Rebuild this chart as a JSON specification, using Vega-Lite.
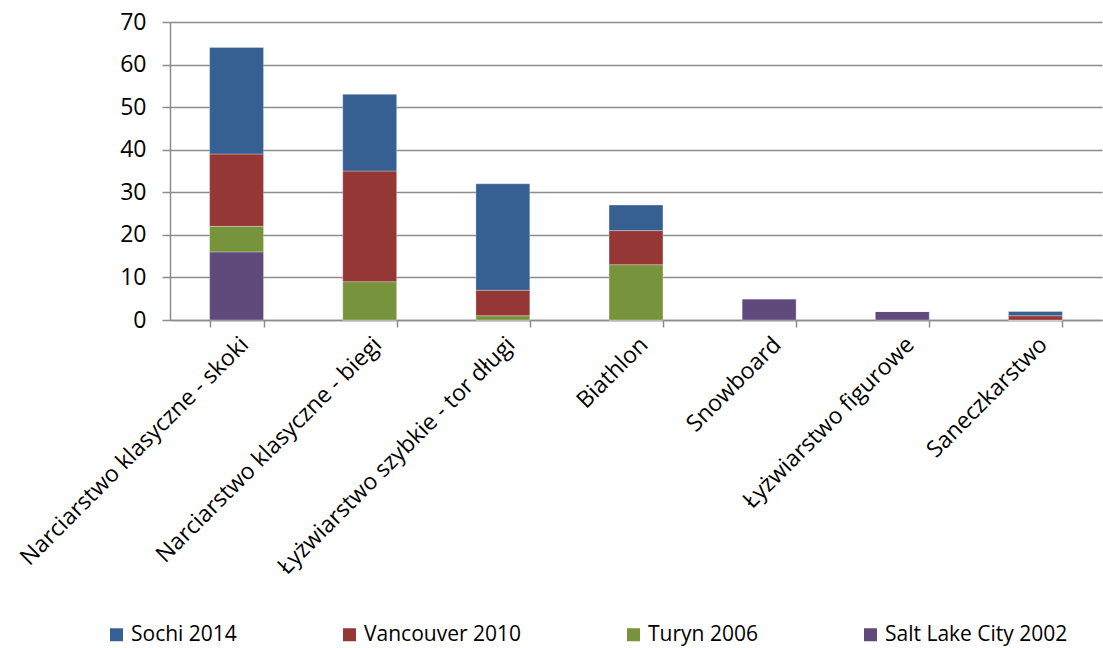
{
  "$schema": "https://vega.github.io/schema/vega-lite/v6.json",
  "width": 932,
  "height": 298,
  "autosize": {"type": "none"},
  "padding": {"left": 170, "top": 22, "right": 1, "bottom": 328},
  "background": "white",
  "config": {
    "font": "Open Sans",
    "view": {"stroke": null},
    "axis": {"labelFont": "Open Sans", "labelFontSize": 23, "labelColor": "#000000", "domainColor": "#8c8c8c", "tickColor": "#8c8c8c", "gridColor": "#8c8c8c", "domainWidth": 1.5, "tickWidth": 1.5, "gridWidth": 1.5}
  },
  "data": {
    "values": [
      {"sport": "Narciarstwo klasyczne - skoki", "series": "Salt Lake City 2002", "o": 1, "v": 16},
      {"sport": "Narciarstwo klasyczne - skoki", "series": "Turyn 2006", "o": 2, "v": 6},
      {"sport": "Narciarstwo klasyczne - skoki", "series": "Vancouver 2010", "o": 3, "v": 17},
      {"sport": "Narciarstwo klasyczne - skoki", "series": "Sochi 2014", "o": 4, "v": 25},
      {"sport": "Narciarstwo klasyczne - biegi", "series": "Salt Lake City 2002", "o": 1, "v": 0},
      {"sport": "Narciarstwo klasyczne - biegi", "series": "Turyn 2006", "o": 2, "v": 9},
      {"sport": "Narciarstwo klasyczne - biegi", "series": "Vancouver 2010", "o": 3, "v": 26},
      {"sport": "Narciarstwo klasyczne - biegi", "series": "Sochi 2014", "o": 4, "v": 18},
      {"sport": "Łyżwiarstwo szybkie - tor długi", "series": "Salt Lake City 2002", "o": 1, "v": 0},
      {"sport": "Łyżwiarstwo szybkie - tor długi", "series": "Turyn 2006", "o": 2, "v": 1},
      {"sport": "Łyżwiarstwo szybkie - tor długi", "series": "Vancouver 2010", "o": 3, "v": 6},
      {"sport": "Łyżwiarstwo szybkie - tor długi", "series": "Sochi 2014", "o": 4, "v": 25},
      {"sport": "Biathlon", "series": "Salt Lake City 2002", "o": 1, "v": 0},
      {"sport": "Biathlon", "series": "Turyn 2006", "o": 2, "v": 13},
      {"sport": "Biathlon", "series": "Vancouver 2010", "o": 3, "v": 8},
      {"sport": "Biathlon", "series": "Sochi 2014", "o": 4, "v": 6},
      {"sport": "Snowboard", "series": "Salt Lake City 2002", "o": 1, "v": 5},
      {"sport": "Snowboard", "series": "Turyn 2006", "o": 2, "v": 0},
      {"sport": "Snowboard", "series": "Vancouver 2010", "o": 3, "v": 0},
      {"sport": "Snowboard", "series": "Sochi 2014", "o": 4, "v": 0},
      {"sport": "Łyżwiarstwo figurowe", "series": "Salt Lake City 2002", "o": 1, "v": 2},
      {"sport": "Łyżwiarstwo figurowe", "series": "Turyn 2006", "o": 2, "v": 0},
      {"sport": "Łyżwiarstwo figurowe", "series": "Vancouver 2010", "o": 3, "v": 0},
      {"sport": "Łyżwiarstwo figurowe", "series": "Sochi 2014", "o": 4, "v": 0},
      {"sport": "Saneczkarstwo", "series": "Salt Lake City 2002", "o": 1, "v": 0},
      {"sport": "Saneczkarstwo", "series": "Turyn 2006", "o": 2, "v": 0},
      {"sport": "Saneczkarstwo", "series": "Vancouver 2010", "o": 3, "v": 1},
      {"sport": "Saneczkarstwo", "series": "Sochi 2014", "o": 4, "v": 1}
    ]
  },
  "mark": {"type": "bar", "stroke": "#ffffff", "strokeWidth": 0.5, "strokeOpacity": 0.6},
  "encoding": {
    "x": {
      "field": "sport", "type": "nominal", "sort": null, "title": null,
      "scale": {"paddingInner": 0.595, "paddingOuter": 0.2975},
      "axis": {"labelAngle": -45, "labelAlign": "right", "labelBaseline": "top", "labelPadding": 6, "tickBand": "extent", "tickSize": 7, "labelLimit": 400, "labelOffset": 0}
    },
    "y": {
      "field": "v", "type": "quantitative", "stack": "zero", "title": null,
      "scale": {"domain": [0, 70], "nice": false},
      "axis": {"values": [0, 10, 20, 30, 40, 50, 60, 70], "tickSize": 8, "labelPadding": 16, "grid": true}
    },
    "color": {
      "field": "series", "type": "nominal", "title": null,
      "scale": {"domain": ["Sochi 2014", "Vancouver 2010", "Turyn 2006", "Salt Lake City 2002"], "range": ["#366092", "#953735", "#77933C", "#604A7B"]},
      "legend": {"orient": "none", "legendX": -64, "legendY": 602, "direction": "horizontal", "columns": 4, "columnPadding": 102, "symbolType": "square", "symbolSize": 169, "symbolStrokeWidth": 0, "labelFontSize": 21, "labelFont": "Open Sans", "labelColor": "#000000", "labelOffset": 4, "labelLimit": 400}
    },
    "order": {"field": "o", "type": "quantitative"}
  }
}
